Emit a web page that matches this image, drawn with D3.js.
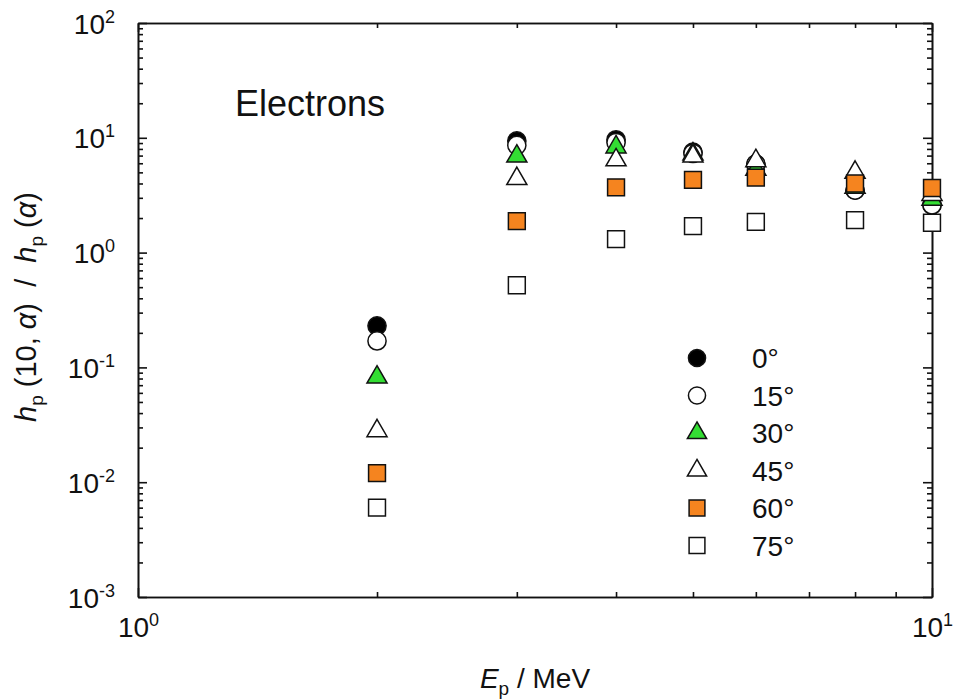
<!DOCTYPE html>
<html>
<head>
<meta charset="utf-8">
<script src="https://cdn.jsdelivr.net/npm/d3@7"></script>
<style>
  body { margin: 0; background: #fff; }
  text { font-family: "Liberation Sans", Arial, sans-serif; fill: #111; }
</style>
</head>
<body>
<div id="chart-container"></div>
<script>
// energies in MeV
var energies = [2, 3, 4, 5, 6, 8, 10];

// ratio values per angle
var angle0  = [0.23, 9.4, 9.6, 7.5, 5.9, 3.5, 2.6];
var angle15 = [0.17, 8.6, 9.1, 7.3, 5.9, 3.5, 2.6];
var angle30 = [0.082, 6.9, 8.3, 7.2, 5.3, 3.7, 2.9];
var angle45 = [0.028, 4.4, 6.4, 6.9, 6.3, 5.0, 3.2];
var angle60 = [0.012, 1.88, 3.7, 4.3, 4.5, 4.0, 3.65];
var angle75 = [0.006, 0.52, 1.31, 1.70, 1.85, 1.92, 1.82];

var seriesNames = ['0°', '15°', '30°', '45°', '60°', '75°'];
var xTickLabels = [1, 10];
var yTickLabels = [1e-3, 1e-2, 1e-1, 1, 10, 100];

var series = [
  { name: seriesNames[0], values: angle0,  shape: 'circle',   fill: '#000000' },
  { name: seriesNames[1], values: angle15, shape: 'circle',   fill: '#ffffff' },
  { name: seriesNames[2], values: angle30, shape: 'triangle', fill: '#33dd33' },
  { name: seriesNames[3], values: angle45, shape: 'triangle', fill: '#ffffff' },
  { name: seriesNames[4], values: angle60, shape: 'square',   fill: '#f5841f' },
  { name: seriesNames[5], values: angle75, shape: 'square',   fill: '#ffffff' }
];

var margin = { left: 138, top: 23 };
var width = 794, height = 574;

var svg = d3.select('#chart-container')
            .append('svg')
            .attr('width', 956)
            .attr('height', 700);

var g = svg.append('g')
           .attr('transform', 'translate(' + margin.left + ',' + margin.top + ')');

var x = d3.scaleLog().domain([1, 10]).range([0, width]);
var y = d3.scaleLog().domain([1e-3, 100]).range([height, 0]);

function minorTicks(scale) {
  return scale.ticks().filter(function(v) {
    var l = Math.log10(v);
    return Math.abs(l - Math.round(l)) > 1e-6;
  });
}

function pow10(el, v) {
  var e = Math.round(Math.log10(v));
  el.text(null);
  el.append('tspan').text('10');
  el.append('tspan').attr('dy', -11).attr('font-size', 18).text(e);
}

// minor ticks on all four sides
g.append('g').attr('transform', 'translate(0,' + height + ')')
  .call(d3.axisBottom(x).tickValues(minorTicks(x)).tickSizeInner(-5).tickSizeOuter(0).tickFormat(''));
g.append('g')
  .call(d3.axisTop(x).tickValues(minorTicks(x)).tickSizeInner(-5).tickSizeOuter(0).tickFormat(''));
g.append('g')
  .call(d3.axisLeft(y).tickValues(minorTicks(y)).tickSizeInner(-5).tickSizeOuter(0).tickFormat(''));
g.append('g').attr('transform', 'translate(' + width + ',0)')
  .call(d3.axisRight(y).tickValues(minorTicks(y)).tickSizeInner(-5).tickSizeOuter(0).tickFormat(''));

// major ticks with labels
var yAxis = g.append('g')
  .call(d3.axisLeft(y).tickValues(yTickLabels).tickSizeInner(-9).tickSizeOuter(0).tickPadding(23));
yAxis.selectAll('text')
  .attr('font-size', 28).attr('dy', 10)
  .each(function(d) { pow10(d3.select(this), d); });
g.append('g').attr('transform', 'translate(' + width + ',0)')
  .call(d3.axisRight(y).tickValues(yTickLabels).tickSizeInner(-9).tickSizeOuter(0).tickFormat(''));

var xAxis = g.append('g').attr('transform', 'translate(0,' + height + ')')
  .call(d3.axisBottom(x).tickValues(xTickLabels).tickSizeInner(-9).tickSizeOuter(0).tickPadding(20));
xAxis.selectAll('text')
  .attr('font-size', 28).attr('dy', 20)
  .each(function(d) { pow10(d3.select(this), d); });
g.append('g')
  .call(d3.axisTop(x).tickValues(xTickLabels).tickSizeInner(-9).tickSizeOuter(0).tickFormat(''));

g.selectAll('.domain').attr('stroke', '#111').attr('stroke-width', 1.6);
g.selectAll('.tick line').attr('stroke', '#111').attr('stroke-width', 1.6);
g.selectAll('.tick text').attr('fill', '#111').attr('font-family', '"Liberation Sans", Arial, sans-serif');

function symbolFor(shape) {
  if (shape === 'circle') return d3.symbol().type(d3.symbolCircle).size(260);
  if (shape === 'triangle') return d3.symbol().type(d3.symbolTriangle).size(175);
  return d3.symbol().type(d3.symbolSquare).size(285);
}

// data points
series.forEach(function(s) {
  g.selectAll(null)
   .data(s.values)
   .enter()
   .append('path')
     .attr('d', symbolFor(s.shape))
     .attr('transform', function(d, i) { return 'translate(' + x(energies[i]) + ',' + y(d) + ')'; })
     .attr('fill', s.fill)
     .attr('stroke', '#111')
     .attr('stroke-width', 1.5);
});

// legend
var legend = g.append('g').attr('transform', 'translate(559,335)');
series.forEach(function(s, i) {
  var row = legend.append('g').attr('transform', 'translate(0,' + (i * 37.5) + ')');
  row.append('path')
     .attr('d', symbolFor(s.shape).size(s.shape === 'square' ? 250 : s.shape === 'triangle' ? 160 : 230))
     .attr('fill', s.fill)
     .attr('stroke', '#111')
     .attr('stroke-width', 1.5);
  row.append('text')
     .attr('x', 55)
     .attr('y', 10)
     .attr('font-size', 28)
     .text(s.name);
});

// panel label
g.append('text')
 .attr('x', 97)
 .attr('y', 93)
 .attr('font-size', 36)
 .text('Electrons');

// axis titles
var xt = svg.append('text')
  .attr('x', 535)
  .attr('y', 688)
  .attr('text-anchor', 'middle')
  .attr('font-size', 28);
xt.append('tspan').attr('font-style', 'italic').text('E');
xt.append('tspan').attr('dy', 7).attr('font-size', 19).text('p');
xt.append('tspan').attr('dy', -7).text(' / MeV');

var yt = svg.append('text')
  .attr('transform', 'translate(36,307) rotate(-90)')
  .attr('text-anchor', 'middle')
  .attr('font-size', 29)
  .attr('xml:space', 'preserve')
  .style('white-space', 'pre');
yt.append('tspan').attr('font-style', 'italic').text('h');
yt.append('tspan').attr('dy', 7).attr('font-size', 19).text('p');
yt.append('tspan').attr('dy', -7).text(' (10, ');
yt.append('tspan').attr('font-style', 'italic').text('α');
yt.append('tspan').text(')  /  ');
yt.append('tspan').attr('font-style', 'italic').text('h');
yt.append('tspan').attr('dy', 7).attr('font-size', 19).text('p');
yt.append('tspan').attr('dy', -7).text(' (');
yt.append('tspan').attr('font-style', 'italic').text('α');
yt.append('tspan').text(')');
</script>
</body>
</html>
